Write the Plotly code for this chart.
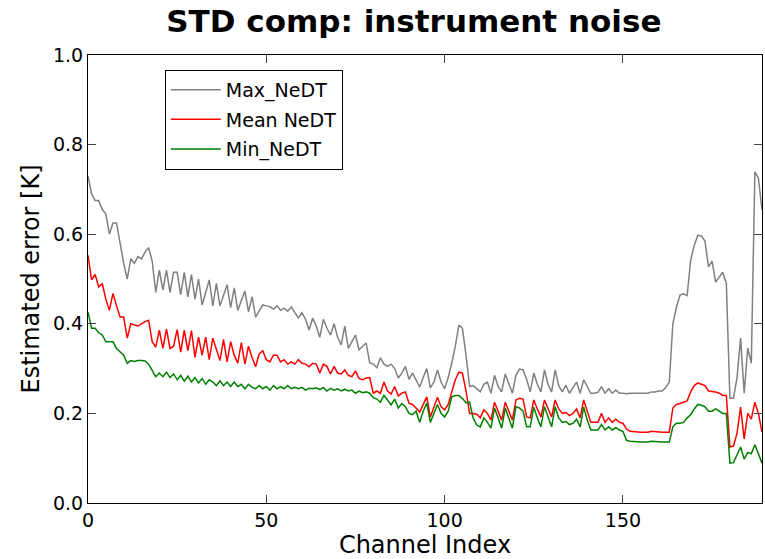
import plotly.graph_objects as go

channels = list(range(190))

max_nedt = [
    0.73, 0.69, 0.675, 0.675, 0.655, 0.645, 0.60, 0.625, 0.625, 0.575,
    0.535, 0.50, 0.545, 0.535, 0.55, 0.545, 0.56, 0.57, 0.54, 0.47,
    0.52, 0.475, 0.52, 0.47, 0.515, 0.515, 0.465, 0.515, 0.46, 0.51,
    0.455, 0.50, 0.442, 0.47, 0.498, 0.44, 0.49, 0.44, 0.465, 0.487,
    0.436, 0.48, 0.43, 0.45, 0.473, 0.427, 0.46, 0.415, 0.43, 0.442,
    0.44, 0.438, 0.433, 0.44, 0.43, 0.435, 0.428, 0.438, 0.425, 0.413,
    0.425, 0.41, 0.386, 0.413, 0.395, 0.37, 0.41, 0.39, 0.375, 0.40,
    0.37, 0.353, 0.395, 0.345, 0.36, 0.375, 0.342, 0.35, 0.357, 0.313,
    0.31, 0.302, 0.324, 0.31, 0.305, 0.31, 0.30, 0.279, 0.29, 0.305,
    0.276, 0.29, 0.275, 0.259, 0.28, 0.30, 0.257, 0.27, 0.297, 0.27,
    0.255, 0.28, 0.312, 0.35, 0.397, 0.39, 0.33, 0.26, 0.262, 0.255,
    0.248, 0.265, 0.27, 0.245, 0.285, 0.26, 0.248, 0.288, 0.265, 0.245,
    0.285, 0.299, 0.297, 0.276, 0.248, 0.29, 0.265, 0.248, 0.297, 0.265,
    0.248, 0.297, 0.262, 0.248, 0.263, 0.245, 0.258, 0.27, 0.245, 0.275,
    0.26, 0.245, 0.245, 0.247, 0.26, 0.245, 0.255, 0.245, 0.252, 0.245,
    0.245, 0.244, 0.245, 0.245, 0.244, 0.245, 0.245, 0.245, 0.248, 0.248,
    0.25, 0.25, 0.258, 0.27, 0.40, 0.437, 0.464, 0.467, 0.463, 0.542,
    0.575, 0.598, 0.596, 0.585, 0.527, 0.54, 0.493, 0.504, 0.515, 0.49,
    0.234, 0.234, 0.28, 0.368, 0.245, 0.346, 0.312, 0.739, 0.725, 0.654,
]

mean_nedt = [
    0.553, 0.498, 0.51, 0.482, 0.49, 0.455, 0.43, 0.468, 0.44, 0.415,
    0.415, 0.368, 0.40, 0.398, 0.395, 0.40, 0.405, 0.408, 0.36, 0.348,
    0.386, 0.345, 0.388, 0.345, 0.35, 0.387, 0.337, 0.386, 0.34, 0.385,
    0.325, 0.37, 0.33, 0.37, 0.32, 0.368, 0.34, 0.318, 0.365, 0.315,
    0.36, 0.33, 0.312, 0.358, 0.31, 0.35, 0.325, 0.304, 0.333, 0.34,
    0.32, 0.315, 0.33, 0.33, 0.315, 0.32, 0.31, 0.315, 0.31, 0.32,
    0.312, 0.31, 0.304, 0.312, 0.31, 0.29, 0.31, 0.305, 0.288, 0.305,
    0.29, 0.288, 0.297, 0.285, 0.282, 0.295, 0.278, 0.275, 0.279, 0.28,
    0.245, 0.25, 0.245, 0.27, 0.25, 0.243, 0.26, 0.239, 0.245, 0.248,
    0.223, 0.22, 0.212, 0.203, 0.22, 0.237, 0.192, 0.215, 0.236, 0.215,
    0.208, 0.22, 0.248, 0.275, 0.292, 0.29, 0.25, 0.20, 0.20, 0.198,
    0.19, 0.208, 0.20, 0.185, 0.225, 0.205, 0.185, 0.225, 0.205, 0.185,
    0.23, 0.234, 0.232, 0.192, 0.19, 0.23, 0.21, 0.192, 0.23, 0.21,
    0.192, 0.23, 0.21, 0.20, 0.202, 0.195, 0.20, 0.21, 0.19, 0.23,
    0.205, 0.18, 0.18, 0.18, 0.20, 0.18, 0.19, 0.18, 0.187, 0.18,
    0.178, 0.165, 0.16, 0.159, 0.158, 0.158, 0.158, 0.158, 0.16, 0.159,
    0.158, 0.158, 0.158, 0.158, 0.212, 0.22, 0.222, 0.225, 0.228, 0.248,
    0.262, 0.268, 0.265, 0.262, 0.25, 0.249, 0.248, 0.245, 0.24, 0.24,
    0.125, 0.127, 0.156, 0.214, 0.143, 0.20, 0.187, 0.225, 0.20, 0.158,
]

min_nedt = [
    0.426, 0.39, 0.39, 0.38, 0.375, 0.36, 0.36, 0.36, 0.345, 0.337,
    0.33, 0.312, 0.318, 0.316, 0.318, 0.318, 0.317, 0.31, 0.295, 0.282,
    0.29, 0.282, 0.292, 0.28, 0.288, 0.275, 0.285, 0.272, 0.283, 0.27,
    0.28, 0.268, 0.278, 0.265, 0.275, 0.27, 0.262, 0.273, 0.262, 0.27,
    0.26, 0.27, 0.26, 0.265, 0.255, 0.265, 0.258, 0.255, 0.262, 0.255,
    0.26, 0.252, 0.262, 0.255, 0.26, 0.255, 0.262, 0.255, 0.258, 0.255,
    0.258, 0.252, 0.256, 0.255, 0.257, 0.253, 0.258, 0.25, 0.256, 0.252,
    0.255, 0.25, 0.254, 0.25, 0.252, 0.245, 0.25, 0.246, 0.248, 0.245,
    0.235, 0.232, 0.225, 0.24, 0.23, 0.219, 0.232, 0.212, 0.222, 0.215,
    0.20, 0.197, 0.205, 0.18, 0.205, 0.223, 0.18, 0.20, 0.22, 0.20,
    0.192, 0.205, 0.237, 0.24, 0.24, 0.233, 0.224, 0.225, 0.19, 0.174,
    0.17, 0.19, 0.18, 0.167, 0.212, 0.19, 0.167, 0.212, 0.19, 0.167,
    0.215, 0.212, 0.205, 0.17, 0.17, 0.214, 0.19, 0.17, 0.215, 0.19,
    0.17, 0.215, 0.19, 0.18, 0.182, 0.175, 0.178, 0.187, 0.17, 0.214,
    0.185, 0.163, 0.163, 0.163, 0.175, 0.163, 0.17, 0.163, 0.168, 0.163,
    0.16, 0.14, 0.138, 0.137, 0.136, 0.136, 0.136, 0.136, 0.138, 0.137,
    0.136, 0.136, 0.136, 0.136, 0.17, 0.178, 0.178, 0.18, 0.19, 0.197,
    0.21, 0.22, 0.218, 0.215, 0.205, 0.205, 0.21, 0.205, 0.20, 0.20,
    0.089, 0.09, 0.107, 0.125, 0.098, 0.113, 0.11, 0.13, 0.11, 0.089,
]

x_ticks = [0, 50, 100, 150]
y_ticks = [0.0, 0.2, 0.4, 0.6, 0.8, 1.0]

FONT = "DejaVu Sans"

fig = go.Figure()
fig.add_trace(go.Scatter(x=channels, y=max_nedt, mode="lines", name="Max_NeDT",
                         legendgroup="a", line=dict(color="#808080", width=1.5)))
fig.add_trace(go.Scatter(x=channels, y=mean_nedt, mode="lines", name="Mean NeDT",
                         legendgroup="b", line=dict(color="#ff0000", width=1.5)))
fig.add_trace(go.Scatter(x=channels, y=min_nedt, mode="lines", name="Min_NeDT",
                         legendgroup="c", line=dict(color="#008000", width=1.5)))

fig.update_layout(
    width=765, height=559,
    margin=dict(l=88, r=3, t=55, b=56),
    paper_bgcolor="white", plot_bgcolor="white",
    font=dict(family=FONT, color="black", size=19),
    title=dict(text="<b>STD comp: instrument noise</b>", x=0.541, xanchor="center",
               y=0.962, yanchor="middle", font=dict(family=FONT, size=31, color="black")),
    showlegend=True,
    legend=dict(x=0.114, y=0.967, xanchor="left", yanchor="top",
                bordercolor="black", borderwidth=1, bgcolor="white",
                itemwidth=50, tracegroupgap=2,
                font=dict(family=FONT, size=19, color="black")),
)
fig.update_xaxes(range=[0, 189], tickvals=x_ticks, ticks="inside", ticklen=8,
                 showline=True, linecolor="black", linewidth=1, mirror="ticks",
                 showgrid=False, zeroline=False,
                 title=dict(text="Channel Index", font=dict(family=FONT, size=24), standoff=2),
                 tickfont=dict(family=FONT, size=19))
fig.update_yaxes(range=[0, 1.0], tickvals=y_ticks, tickformat=".1f", ticks="inside", ticklen=8,
                 showline=True, linecolor="black", linewidth=1, mirror="ticks",
                 showgrid=False, zeroline=False,
                 title=dict(text="Estimated error [K]", font=dict(family=FONT, size=24), standoff=6),
                 tickfont=dict(family=FONT, size=19))

fig.write_html("out.html")
